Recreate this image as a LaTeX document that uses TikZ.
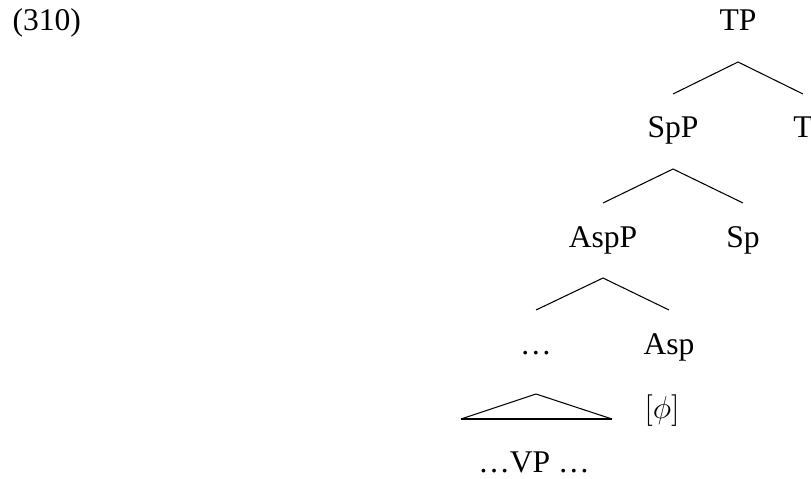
\documentclass[tikz,border=0pt]{standalone}
\usepackage{fontspec}
\setmainfont{Liberation Serif}
\usepackage{tikz}
\usetikzlibrary{calc}

\begin{document}
\begin{tikzpicture}[
  x=0.38pt, y=-0.38pt,
  every node/.style={font=\fontsize{12pt}{14pt}\selectfont},
  cat/.style={anchor=base, inner sep=0pt},
  branch/.style={line width=0.4pt},
  roof/.style={line width=0.4pt, line join=miter},
]
\useasboundingbox (0,0) rectangle (811,479);

% Example number
\node[cat, anchor=base west] (exnum) at (12,31) {(310)};

% Tree labels
\node[cat] (tp)   at (738,31)  {TP};
\node[cat] (spp)  at (673,138) {SpP};
\node[cat] (t)    at (803,138) {T};
\node[cat] (aspp) at (603,247) {AspP};
\node[cat] (sp)   at (743,247) {Sp};
\node[cat] (dots) at (536,354) {\dots};
\node[cat] (asp)  at (669,354) {Asp};
\node[cat] (phi)  at (662,418) {$[\phi]$};
\node[cat] (vp)   at (534,472) {\dots VP \dots};

% Branches
\foreach \mother/\lkid/\rkid in {tp/spp/t, spp/aspp/sp, aspp/dots/asp} {
  \draw[branch] ($(\lkid.base)+(0,-44)$) -- ($(\mother.base)+(0,31)$)
    -- ($(\rkid.base)+(0,-44)$);
}

% Triangle over the VP
\draw[roof] ($(dots.base)+(0,40)$) -- ($(vp.base)+(-73,-53)$);
\draw[roof] ($(dots.base)+(0,40)$) -- ($(vp.base)+(78,-53)$);
\draw[line width=0.9pt] ($(vp.base)+(-73,-53)$) -- ($(vp.base)+(78,-53)$);

\end{tikzpicture}
\end{document}
